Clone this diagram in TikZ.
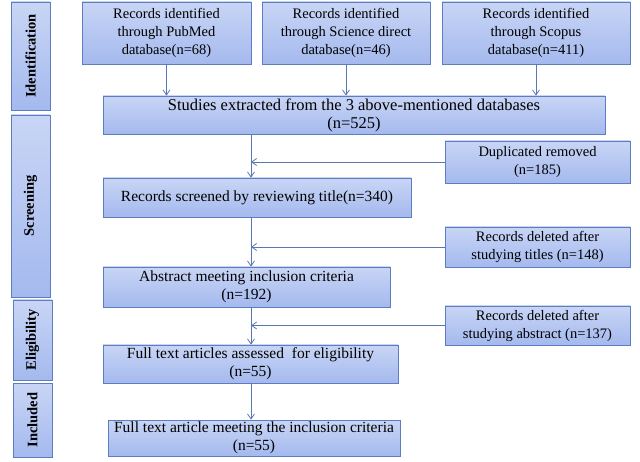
\documentclass[tikz,border=0pt]{standalone}
\usepackage{fontspec}
\setmainfont{Liberation Serif}
\usetikzlibrary{arrows.meta}
\definecolor{bfill}{HTML}{A4B9EE}
\definecolor{bedge}{HTML}{5E7DC0}
\definecolor{arr}{HTML}{5A78B0}
\begin{document}
\begin{tikzpicture}[x=1pt,y=-1pt,
 box/.style={draw=bedge,line width=0.8pt,top color=bfill!60!white,bottom color=bfill,inner sep=0pt,align=center,font=\fontsize{14.5}{18}\selectfont},
 side/.style={box,font=\bfseries\fontsize{14.5}{16}\selectfont},
 ar/.style={-{Straight Barb[length=5pt,width=7pt]},draw=arr,line width=0.8pt}]
\useasboundingbox (0,0) rectangle (640,462);
\node[side,minimum width=39pt,minimum height=108pt] (id) at (30.5,56) {\rotatebox{90}{Identification}};
\node[side,minimum width=39pt,minimum height=182pt] (sc) at (30.5,206) {\rotatebox{90}{Screening}};
\node[side,minimum width=39pt,minimum height=80pt] (el) at (32.5,340) {\rotatebox{90}{Eligibility}};
\node[side,minimum width=39pt,minimum height=74pt] (in) at (32.5,420) {\rotatebox{90}{Included}};
\node[box,minimum width=169pt,minimum height=62pt] (pm) at (166.5,33) {Records identified\\through PubMed\\database(n=68)};
\node[box,minimum width=168pt,minimum height=62pt] (sd) at (346,33) {Records identified\\through Science direct\\database(n=46)};
\node[box,minimum width=188pt,minimum height=62pt] (sp) at (536,33) {Records identified\\through Scopus\\database(n=411)};
\node[box,minimum width=502pt,minimum height=38pt,font=\fontsize{16.5}{18}\selectfont] (st) at (354,115) {Studies extracted from the 3 above-mentioned databases\\(n=525)};
\node[box,minimum width=308pt,minimum height=39pt,font=\fontsize{15.5}{18}\selectfont] (rs) at (257,197.5) {Records screened by reviewing title(n=340)};
\node[box,minimum width=287pt,minimum height=40pt,font=\fontsize{15.5}{18}\selectfont] (ab) at (246.5,287) {Abstract meeting inclusion criteria\\(n=192)};
\node[box,minimum width=295pt,minimum height=38pt,font=\fontsize{15.5}{18}\selectfont] (ft) at (250.5,364) {Full text articles assessed\ \ for eligibility\\(n=55)};
\node[box,minimum width=292pt,minimum height=36pt,font=\fontsize{15.5}{18}\selectfont] (fi) at (254,438) {Full text article meeting the inclusion criteria\\(n=55)};
\node[box,minimum width=185pt,minimum height=42pt] (du) at (537.5,162) {Duplicated removed\\(n=185)};
\node[box,minimum width=185pt,minimum height=40pt] (dt) at (537.5,247) {Records deleted after\\studying titles (n=148)};
\node[box,minimum width=185pt,minimum height=39pt] (da) at (537.5,325.5) {Records deleted after\\studying abstract (n=137)};
\draw[ar] (pm.south) -- (pm.south|-st.north);
\draw[ar] (sd.south) -- (sd.south|-st.north);
\draw[ar] (sp.south) -- (sp.south|-st.north);
\coordinate (mx) at (251,0);
\draw[ar] (mx|-st.south) -- (mx|-rs.north);
\draw[ar] (mx|-rs.south) -- (mx|-ab.north);
\draw[ar] (mx|-ab.south) -- (mx|-ft.north);
\draw[ar] (mx|-ft.south) -- (mx|-fi.north);
\draw[ar] (du.west) -- (mx|-du.west);
\draw[ar] (dt.west) -- (mx|-dt.west);
\draw[ar] (da.west) -- (mx|-da.west);
\end{tikzpicture}
\end{document}
